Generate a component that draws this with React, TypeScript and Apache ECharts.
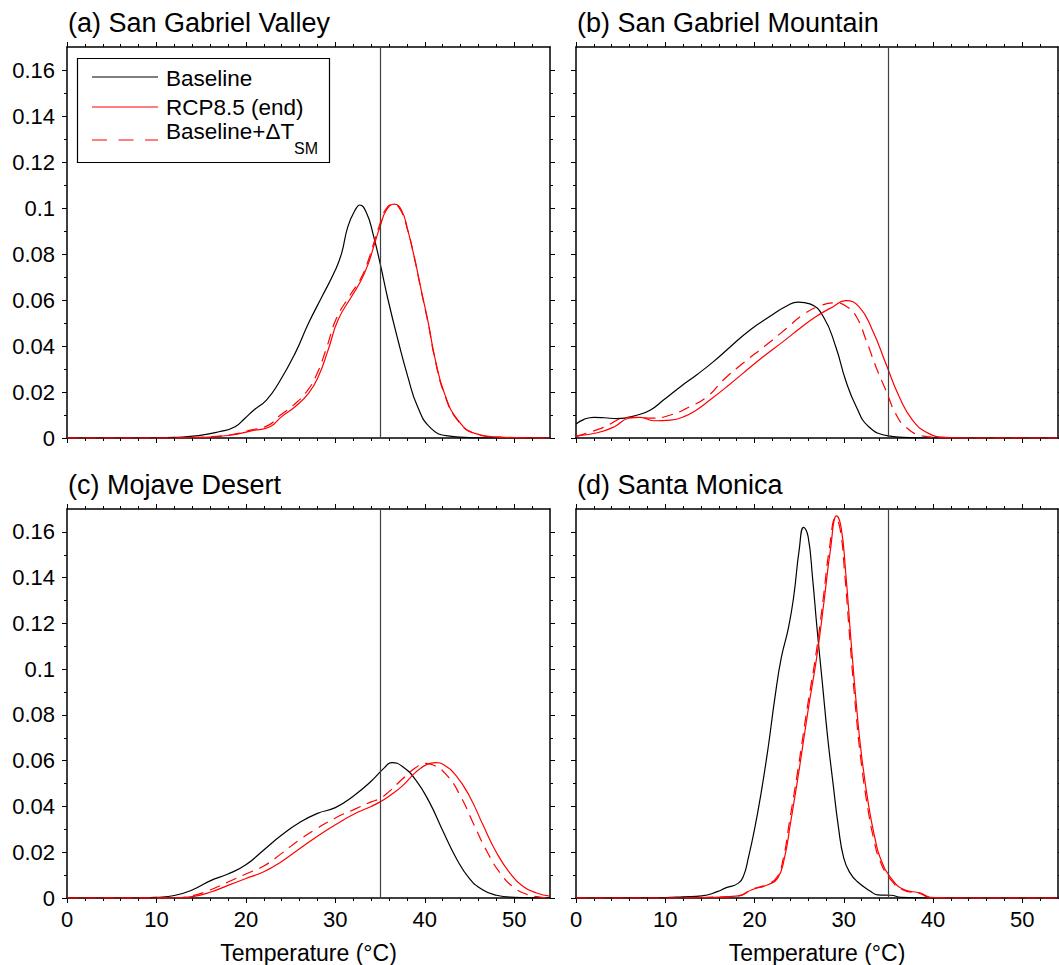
import React, { useEffect, useRef } from 'react';
import * as echarts from 'echarts';

const FONT = 'Liberation Sans, Arial, Helvetica, sans-serif';

const xMajor = [0, 10, 20, 30, 40, 50];
const xMinor = [2, 4, 6, 8, 12, 14, 16, 18, 22, 24, 26, 28, 32, 34, 36, 38, 42, 44, 46, 48, 52];
const yMajor = [0, 0.02, 0.04, 0.06, 0.08, 0.1, 0.12, 0.14, 0.16];
const yMinor = [0.01, 0.03, 0.05, 0.07, 0.09, 0.11, 0.13, 0.15];
const xMax = 54;
const yMax = 0.17;
const thresholdT = 35;

const titles = ['(a) San Gabriel Valley', '(b) San Gabriel Mountain', '(c) Mojave Desert', '(d) Santa Monica'];
const seriesNames = ['Baseline', 'RCP8.5 (end)', 'Baseline+ΔT_SM'];
const xAxisName = 'Temperature (°C)';

// (a) San Gabriel Valley
const baselineA = [[0,0],[10,0.0001],[12,0.0003],[14.7,0.001],[17,0.0027],[18.8,0.0049],[19.9,0.0086],[20.9,0.0122],[22.3,0.0165],[23.65,0.0238],[25.5,0.0368],[27,0.0499],[28.5,0.0614],[30,0.073],[30.7,0.0803],[31.4,0.0919],[32.2,0.099],[32.75,0.1013],[33.5,0.0977],[34.2,0.089],[35,0.076],[35.9,0.06],[37,0.0426],[38.1,0.0267],[39.2,0.0136],[40.7,0.0042],[42.6,0.0009],[44.5,0.0003],[47,0],[54,0]];
const rcpA = [[0,0],[12,0],[14.7,0.0002],[18.45,0.0013],[20.7,0.0032],[22.7,0.0049],[24,0.0093],[25.5,0.0136],[27,0.0194],[28.1,0.0267],[29.2,0.0383],[30.3,0.0513],[31.8,0.0614],[32.9,0.0687],[33.7,0.076],[34.4,0.0846],[35,0.0919],[35.7,0.099],[36.6,0.1017],[37.4,0.099],[38.1,0.0904],[38.9,0.0774],[39.6,0.0643],[40.4,0.0499],[41.1,0.0354],[42.2,0.0194],[43.7,0.0078],[45.6,0.002],[48,0.0005],[51,0.0001],[54,0]];
const deltaA = [[0,0],[12,0],[14.7,0.0003],[18.3,0.0014],[20.5,0.0034],[22.5,0.0055],[23.8,0.0098],[25.3,0.0142],[26.8,0.0202],[27.9,0.0275],[29,0.039],[30.1,0.0518],[31.6,0.0618],[32.8,0.069],[33.6,0.0763],[34.3,0.0848],[34.9,0.092],[35.6,0.0992],[36.5,0.1017],[37.3,0.099],[38.1,0.0902],[38.9,0.0772],[39.6,0.064],[40.4,0.0495],[41.1,0.035],[42.2,0.019],[43.7,0.0075],[45.6,0.0019],[48,0.0004],[51,0],[54,0]];

// (b) San Gabriel Mountain
const baselineB = [[0,0.0061],[0.9,0.0081],[2,0.009],[3.2,0.0088],[4.6,0.0084],[6.9,0.01],[8.35,0.0122],[9.8,0.0165],[11.7,0.0223],[13.5,0.0274],[15.4,0.0332],[17.3,0.0397],[19.5,0.047],[21.7,0.0528],[23.6,0.0574],[24.9,0.0591],[26.2,0.0583],[27.7,0.0528],[29.1,0.0397],[30.2,0.0252],[31.4,0.0136],[32.8,0.0049],[35,0.0009],[36.6,0.0003],[40,0],[54,0]];
const rcpB = [[0,0.0009],[2.4,0.0023],[4.3,0.0049],[5.9,0.0086],[7.2,0.009],[8.7,0.0075],[10.6,0.0078],[12.1,0.0093],[13.5,0.0122],[15,0.0165],[16.9,0.0223],[18.7,0.0281],[21,0.0354],[23.2,0.0419],[25.1,0.0477],[26.9,0.0528],[28.8,0.0571],[30.2,0.0597],[31.7,0.0571],[33.2,0.047],[34.7,0.0325],[36.2,0.018],[37.7,0.0078],[39.5,0.002],[41.4,0.0003],[44,0],[54,0]];
const deltaB = [[0,0.0006],[2.8,0.0042],[6.1,0.009],[8.7,0.0086],[10.6,0.01],[12.4,0.0129],[14.7,0.018],[16.5,0.0252],[18.7,0.0325],[21.3,0.0404],[23.6,0.0477],[25.4,0.0535],[27.3,0.0574],[29.1,0.0588],[30.3,0.0572],[31.4,0.0528],[32.5,0.0426],[33.6,0.031],[34.7,0.0209],[35.8,0.0107],[36.9,0.0049],[38.8,0.0009],[40.3,0.0003],[43,0],[54,0]];

// (c) Mojave Desert
const baselineC = [[0,0],[8,0],[10,0.0003],[12,0.0011],[14,0.0035],[16,0.0075],[18,0.0105],[20,0.0145],[22,0.021],[24,0.0275],[26,0.033],[28,0.037],[30,0.0395],[32,0.0445],[34,0.051],[35.5,0.057],[36.3,0.0592],[37.5,0.0575],[39,0.0515],[40.5,0.042],[42,0.0295],[43.5,0.0175],[45,0.0085],[46.5,0.0035],[48,0.0012],[50,0.0003],[54,0]];
const rcpC = [[0,0],[12,0],[14,0.0006],[16,0.0025],[18,0.0055],[20,0.0085],[22,0.0115],[24,0.016],[26,0.0215],[28,0.027],[30,0.032],[32,0.0365],[34,0.04],[35,0.042],[36,0.0445],[37.5,0.049],[39,0.055],[40.3,0.0585],[41.2,0.0592],[42.2,0.058],[43.5,0.0535],[45,0.0445],[46.5,0.032],[48,0.02],[49.5,0.011],[51,0.005],[52.5,0.0022],[54,0.0008]];
const deltaC = [[0,0],[12,0.0001],[14,0.001],[16,0.0035],[18,0.007],[20,0.0105],[22,0.014],[24,0.0195],[26,0.0255],[28,0.0305],[30,0.035],[32,0.0385],[34,0.042],[35,0.0435],[36,0.0465],[37.5,0.052],[39,0.057],[40,0.0588],[41,0.058],[42.5,0.0535],[44,0.0445],[45.5,0.032],[47,0.02],[48.5,0.0105],[50,0.0045],[51.5,0.0015],[53,0.0003],[54,0]];

// (d) Santa Monica
const baselineD = [[0,0],[10,0.0002],[12,0.0005],[14.1,0.0009],[15.9,0.0029],[16.7,0.0043],[18.2,0.0065],[18.8,0.01],[19.3,0.0174],[20,0.03],[20.7,0.045],[21.5,0.065],[22.3,0.088],[23,0.105],[23.8,0.118],[24.4,0.132],[25,0.152],[25.5,0.162],[26,0.158],[26.5,0.14],[27,0.118],[27.6,0.094],[28.2,0.07],[28.8,0.05],[29.4,0.031],[30,0.0174],[30.7,0.011],[31.5,0.0072],[33,0.0029],[33.8,0.0014],[35.3,0.0012],[36.4,0.0003],[40,0],[54,0]];
const rcpD = [[0,0],[12,0],[15,0.0003],[18.2,0.0009],[19.7,0.0036],[21.5,0.0058],[22.6,0.0087],[23.35,0.0174],[24,0.032],[25,0.056],[26,0.082],[27,0.106],[27.8,0.13],[28.5,0.152],[29.2,0.167],[29.7,0.162],[30.2,0.143],[30.8,0.113],[31.4,0.085],[32,0.062],[32.8,0.04],[33.5,0.026],[34.1,0.0174],[35.3,0.0087],[36.8,0.0036],[38.6,0.0022],[39.7,0.0003],[42,0],[54,0]];
const deltaD = [[0,0],[12,0],[15,0.0003],[18.2,0.0009],[19.7,0.0038],[21.4,0.006],[22.5,0.009],[23.25,0.0178],[23.9,0.033],[24.9,0.057],[25.9,0.083],[26.9,0.107],[27.7,0.131],[28.4,0.153],[29.1,0.166],[29.6,0.161],[30.1,0.142],[30.7,0.112],[31.3,0.084],[31.9,0.061],[32.7,0.039],[33.4,0.025],[34,0.0168],[35.2,0.0083],[36.7,0.0034],[38.5,0.002],[39.6,0.0003],[42,0],[54,0]];

const panelData = [
  [baselineA, rcpA, deltaA],
  [baselineB, rcpB, deltaB],
  [baselineC, rcpC, deltaC],
  [baselineD, rcpD, deltaD],
];

const PH = 391;
const layout = [
  { left: 67, top: 47, width: 483 },
  { left: 576, top: 47, width: 482 },
  { left: 67, top: 509, width: 483 },
  { left: 576, top: 509, width: 482 },
];

const lineColors = ['#000000', '#ff0000', '#ff0000'];

function buildOption() {
  const grid: any[] = [];
  const xAxis: any[] = [];
  const yAxis: any[] = [];
  const series: any[] = [];
  const graphic: any[] = [];

  layout.forEach((l, i) => {
    grid.push({ left: l.left, top: l.top, width: l.width, height: PH, containLabel: false });
    const showX = i >= 2;
    const showY = i % 2 === 0;
    const baseX = { type: 'value', gridIndex: i, min: 0, max: xMax, splitLine: { show: false } };
    const lineOn = { show: true, onZero: false, lineStyle: { color: '#000', width: 1.5 } };
    const lineOff = { show: false, onZero: false };
    const majTick = (vals: number[]) => ({ show: true, inside: false, length: 5, customValues: vals, lineStyle: { color: '#000', width: 1 } });
    const minTick = (vals: number[]) => ({ show: true, inside: false, length: 3, customValues: vals, lineStyle: { color: '#000', width: 1 } });

    xAxis.push({
      ...baseX, position: 'bottom', axisLine: lineOn, axisTick: majTick(xMajor),
      axisLabel: { show: showX, customValues: xMajor, fontSize: 22, color: '#000', fontFamily: FONT, margin: 10 },
      name: showX ? xAxisName : '', nameLocation: 'middle', nameGap: 43,
      nameTextStyle: { fontSize: 23, color: '#000', fontFamily: FONT },
    });
    xAxis.push({ ...baseX, position: 'bottom', axisLine: lineOff, axisTick: minTick(xMinor), axisLabel: { show: false } });
    xAxis.push({ ...baseX, position: 'top', axisLine: lineOn, axisTick: majTick(xMajor), axisLabel: { show: false } });
    xAxis.push({ ...baseX, position: 'top', axisLine: lineOff, axisTick: minTick(xMinor), axisLabel: { show: false } });

    const baseY = { type: 'value', gridIndex: i, min: 0, max: yMax, splitLine: { show: false } };
    yAxis.push({
      ...baseY, position: 'left', axisLine: lineOn, axisTick: majTick(yMajor),
      axisLabel: { show: showY, customValues: yMajor, fontSize: 22, color: '#000', fontFamily: FONT, margin: 12 },
    });
    yAxis.push({ ...baseY, position: 'left', axisLine: lineOff, axisTick: minTick(yMinor), axisLabel: { show: false } });
    yAxis.push({ ...baseY, position: 'right', axisLine: lineOn, axisTick: majTick(yMajor), axisLabel: { show: false } });
    yAxis.push({ ...baseY, position: 'right', axisLine: lineOff, axisTick: minTick(yMinor), axisLabel: { show: false } });

    panelData[i].forEach((d, k) => {
      const s: any = {
        type: 'line', name: seriesNames[k], xAxisIndex: i * 4, yAxisIndex: i * 4,
        data: d, showSymbol: false, symbol: 'none', smooth: 0.5,
        lineStyle: { color: lineColors[k], width: 1.2, type: k === 2 ? [11, 7] : 'solid' },
        silent: true, z: 3 + k,
      };
      if (k === 0) {
        s.markLine = {
          silent: true, symbol: 'none', label: { show: false },
          lineStyle: { color: '#404040', width: 1.2, type: 'solid' },
          data: [{ xAxis: thresholdT }],
        };
      }
      series.push(s);
    });

    graphic.push({
      type: 'text', x: l.left + 1, y: l.top - 24,
      style: { text: titles[i], fontSize: 27, fontFamily: FONT, fill: '#000', verticalAlign: 'middle', align: 'left' },
    });
  });

  const legendText = (text: string, x: number, y: number, size: number) => ({
    type: 'text', x, y, z: 11,
    style: { text, fontSize: size, lineHeight: size, fontFamily: FONT, fill: '#000', verticalAlign: 'middle' },
  });

  // legend in panel (a)
  graphic.push(
    { type: 'rect', shape: { x: 77.5, y: 58.5, width: 252, height: 104 }, style: { fill: '#fff', stroke: '#000', lineWidth: 1.2 }, z: 10 },
    { type: 'line', shape: { x1: 92, y1: 77, x2: 158, y2: 77 }, style: { stroke: '#000', lineWidth: 1.2 }, z: 11 },
    legendText(seriesNames[0], 166, 78, 22.5),
    { type: 'line', shape: { x1: 92, y1: 107, x2: 158, y2: 107 }, style: { stroke: '#ff0000', lineWidth: 1.2 }, z: 11 },
    legendText(seriesNames[1], 166, 107, 22.5),
    { type: 'line', shape: { x1: 92, y1: 140, x2: 158, y2: 140 }, style: { stroke: '#ff0000', lineWidth: 1.2, lineDash: [15, 11.5] }, z: 11 },
    legendText('Baseline+ΔT', 166, 131.5, 22.5),
    legendText('SM', 294, 148, 16),
  );

  return {
    animation: false,
    backgroundColor: '#fff',
    textStyle: { fontFamily: FONT },
    grid, xAxis, yAxis, series, graphic,
  };
}

export default function App() {
  const ref = useRef<HTMLDivElement>(null);
  useEffect(() => {
    if (!ref.current) return;
    const chart = echarts.init(ref.current, null, { renderer: 'svg' });
    chart.setOption(buildOption() as any);
    return () => chart.dispose();
  }, []);
  return <div ref={ref} style={{ position: 'fixed', left: 0, top: 0, width: 1059, height: 965 }} />;
}
